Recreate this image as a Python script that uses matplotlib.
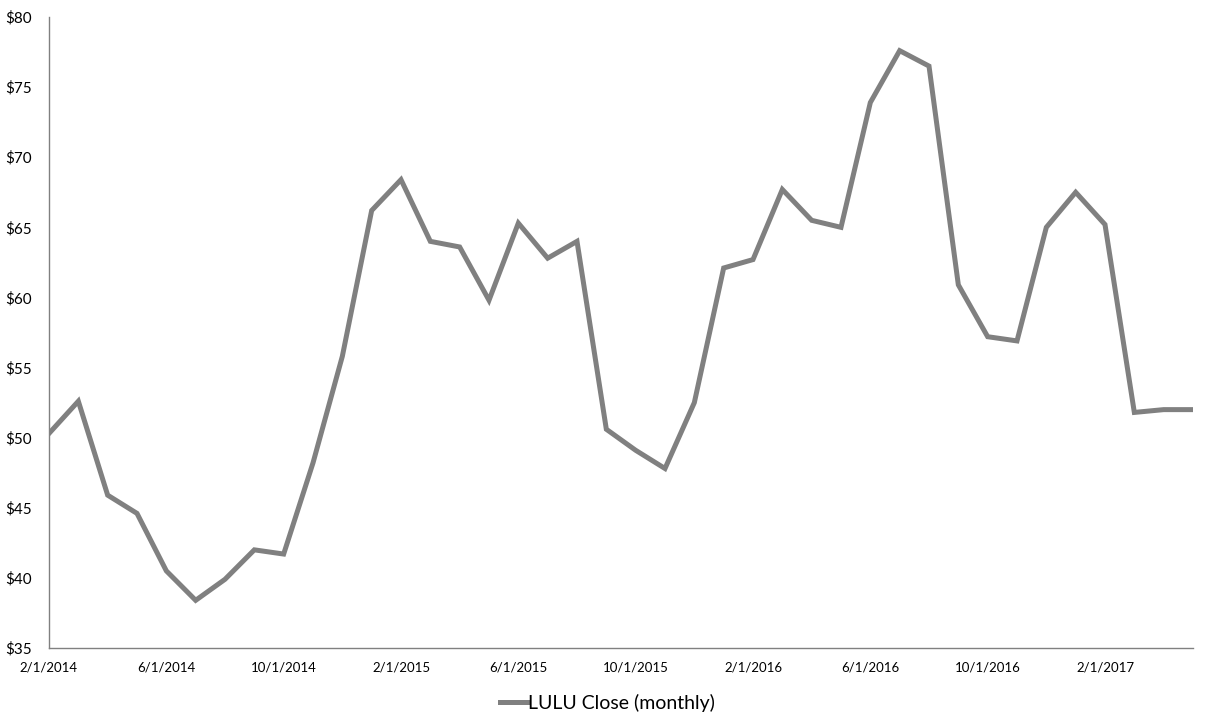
import matplotlib
matplotlib.use("Agg")
import matplotlib.pyplot as plt
from matplotlib.ticker import FixedLocator, FuncFormatter

plt.rcParams["font.family"] = ["Lato", "DejaVu Sans"]

# monthly closes, Feb 2014 .. May 2017
months = ["2/1/2014", "3/1/2014", "4/1/2014", "5/1/2014", "6/1/2014", "7/1/2014",
          "8/1/2014", "9/1/2014", "10/1/2014", "11/1/2014", "12/1/2014", "1/1/2015",
          "2/1/2015", "3/1/2015", "4/1/2015", "5/1/2015", "6/1/2015", "7/1/2015",
          "8/1/2015", "9/1/2015", "10/1/2015", "11/1/2015", "12/1/2015", "1/1/2016",
          "2/1/2016", "3/1/2016", "4/1/2016", "5/1/2016", "6/1/2016", "7/1/2016",
          "8/1/2016", "9/1/2016", "10/1/2016", "11/1/2016", "12/1/2016", "1/1/2017",
          "2/1/2017", "3/1/2017", "4/1/2017", "5/1/2017"]
close = [50.3, 52.6, 45.9, 44.6, 40.5, 38.4, 39.9, 42.0, 41.7, 48.2,
         55.8, 66.2, 68.4, 64.0, 63.6, 59.8, 65.3, 62.8, 64.0, 50.6,
         49.1, 47.8, 52.5, 62.1, 62.7, 67.7, 65.5, 65.0, 73.9, 77.6,
         76.5, 60.9, 57.2, 56.9, 65.0, 67.5, 65.2, 51.8, 52.0, 52.0]
y_ticks = [35, 40, 45, 50, 55, 60, 65, 70, 75, 80]

fig = plt.figure(figsize=(12.09, 7.27), dpi=100)
ax = fig.add_axes([49 / 1209, 1 - 648 / 727, (1193 - 49) / 1209, (648 - 17) / 727])

x = list(range(len(close)))
ax.plot(x, close, color="#808080", linewidth=3.6, label="LULU Close (monthly)",
        solid_joinstyle="miter")

ax.set_xlim(0, len(close) - 1)
ax.set_ylim(35, 80)
ax.xaxis.set_major_locator(FixedLocator(x[::4]))
ax.set_xticklabels(months[::4])
ax.yaxis.set_major_locator(FixedLocator(y_ticks))
ax.yaxis.set_major_formatter(FuncFormatter(lambda v, p: f"${v:.0f}"))

for s in ["top", "right"]:
    ax.spines[s].set_visible(False)
for s in ["left", "bottom"]:
    ax.spines[s].set_color("#808080")
    ax.spines[s].set_linewidth(1.0)
ax.tick_params(axis="both", length=0, labelsize=9.5, colors="black")
ax.tick_params(axis="x", pad=10)
ax.tick_params(axis="y", pad=12)
for lbl in ax.get_yticklabels():
    lbl.set_fontsize(11)

ax.legend(loc="upper center", bbox_to_anchor=(0.488, -0.045), frameon=False,
          fontsize=14, handlelength=1.4, handletextpad=0.05)

fig.savefig("out.png", dpi=100)
